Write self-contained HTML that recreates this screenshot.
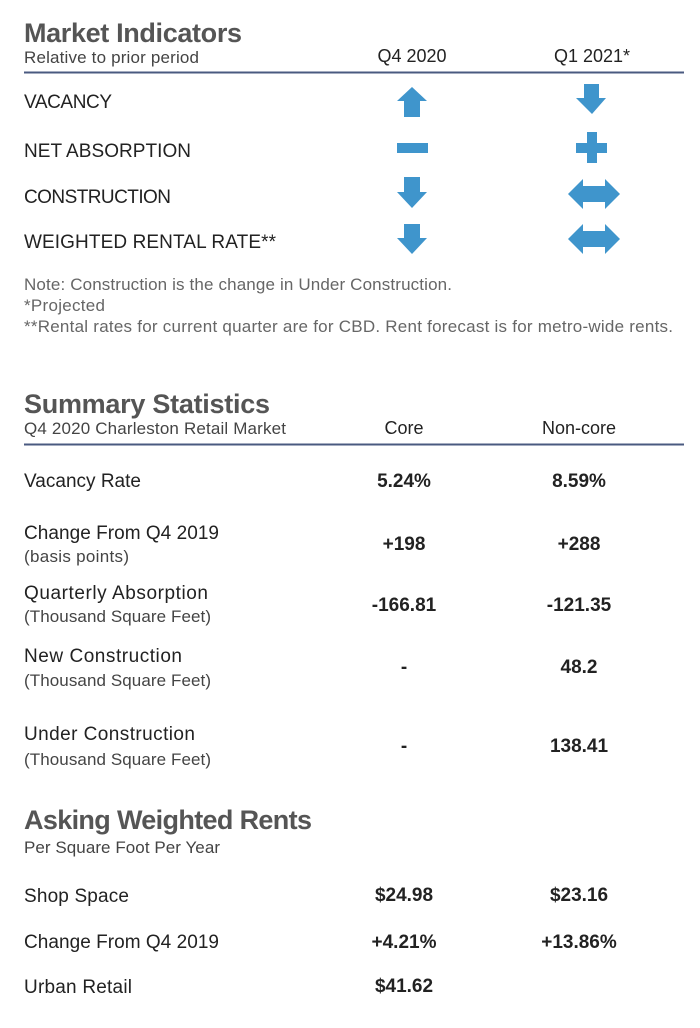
<!DOCTYPE html>
<html><head><meta charset="utf-8"><style>
html,body{margin:0;padding:0;background:#fff;}
svg{display:block;}
text{font-family:"Liberation Sans",sans-serif;fill:#333;}
.h{font-weight:bold;fill:#555;font-size:27px;}
.s{font-size:17px;fill:#444;}
.l{font-size:19px;fill:#222;}
.n{font-size:17px;fill:#666;}
.v{font-size:19px;font-weight:bold;fill:#222;}
.c{font-size:18px;fill:#222;}
</style></head><body>
<svg width="700" height="1028" viewBox="0 0 700 1028">
<text class="h" x="24" y="42" textLength="218">Market Indicators</text>
<text class="s" x="24" y="63" textLength="175">Relative to prior period</text>
<text class="c" x="412" y="62" text-anchor="middle">Q4 2020</text>
<text class="c" x="592" y="62" text-anchor="middle">Q1 2021*</text>
<line x1="24" y1="72.5" x2="684" y2="72.5" stroke="#4a5a80" stroke-width="2"/>
<text class="l" x="24" y="108" textLength="88">VACANCY</text>
<text class="l" x="24" y="157" textLength="167">NET ABSORPTION</text>
<text class="l" x="24" y="203" textLength="147">CONSTRUCTION</text>
<text class="l" x="24" y="248" textLength="252">WEIGHTED RENTAL RATE**</text>
<g fill="#3f95cc">
<polygon points="412,87 427,101 420,101 420,117 404,117 404,101 397,101"/>
<rect x="397" y="143" width="31" height="10"/>
<polygon points="404,177 420,177 420,192 427,192 412,208 397,192 404,192"/>
<polygon points="404,224 420,224 420,238 427,238 412,254 397,238 404,238"/>
<polygon points="584,84 599,84 599,98 606,98 592,114 576,98 584,98"/>
<rect x="576" y="143" width="31" height="10"/>
<rect x="587" y="132" width="10" height="31"/>
<polygon points="568,194 583,179 583,186 605,186 605,179 620,194 605,209 605,202 583,202 583,209"/>
<polygon points="568,239 583,224 583,231 605,231 605,224 620,239 605,254 605,247 583,247 583,254"/>
</g>
<text class="n" x="24" y="290" textLength="428">Note: Construction is the change in Under Construction.</text>
<text class="n" x="24" y="311" textLength="81">*Projected</text>
<text class="n" x="24" y="332" textLength="649">**Rental rates for current quarter are for CBD. Rent forecast is for metro-wide rents.</text>

<text class="h" x="24" y="413" textLength="246">Summary Statistics</text>
<text class="s" x="24" y="434" textLength="262">Q4 2020 Charleston Retail Market</text>
<text class="c" x="404" y="434" text-anchor="middle">Core</text>
<text class="c" x="579" y="434" text-anchor="middle">Non-core</text>
<line x1="24" y1="444.5" x2="684" y2="444.5" stroke="#4a5a80" stroke-width="2"/>
<text class="l" x="24" y="487" textLength="117">Vacancy Rate</text>
<text class="v" x="404" y="487" text-anchor="middle">5.24%</text>
<text class="v" x="579" y="487" text-anchor="middle">8.59%</text>
<text class="l" x="24" y="539" textLength="195">Change From Q4 2019</text>
<text class="s" x="24" y="562" textLength="105">(basis points)</text>
<text class="v" x="404" y="550" text-anchor="middle">+198</text>
<text class="v" x="579" y="550" text-anchor="middle">+288</text>
<text class="l" x="24" y="599" textLength="184">Quarterly Absorption</text>
<text class="s" x="24" y="622" textLength="187">(Thousand Square Feet)</text>
<text class="v" x="404" y="611" text-anchor="middle">-166.81</text>
<text class="v" x="579" y="611" text-anchor="middle">-121.35</text>
<text class="l" x="24" y="662" textLength="158">New Construction</text>
<text class="s" x="24" y="686" textLength="187">(Thousand Square Feet)</text>
<text class="v" x="404" y="673" text-anchor="middle">-</text>
<text class="v" x="579" y="673" text-anchor="middle">48.2</text>
<text class="l" x="24" y="740" textLength="171">Under Construction</text>
<text class="s" x="24" y="765" textLength="187">(Thousand Square Feet)</text>
<text class="v" x="404" y="752" text-anchor="middle">-</text>
<text class="v" x="579" y="752" text-anchor="middle">138.41</text>

<text class="h" x="24" y="829" textLength="288">Asking Weighted Rents</text>
<text class="s" x="24" y="853" textLength="196">Per Square Foot Per Year</text>
<text class="l" x="24" y="902" textLength="105">Shop Space</text>
<text class="v" x="404" y="901" text-anchor="middle">$24.98</text>
<text class="v" x="579" y="901" text-anchor="middle">$23.16</text>
<text class="l" x="24" y="948" textLength="195">Change From Q4 2019</text>
<text class="v" x="404" y="948" text-anchor="middle">+4.21%</text>
<text class="v" x="579" y="948" text-anchor="middle">+13.86%</text>
<text class="l" x="24" y="993" textLength="108">Urban Retail</text>
<text class="v" x="404" y="992" text-anchor="middle">$41.62</text>
</svg>
</body></html>
